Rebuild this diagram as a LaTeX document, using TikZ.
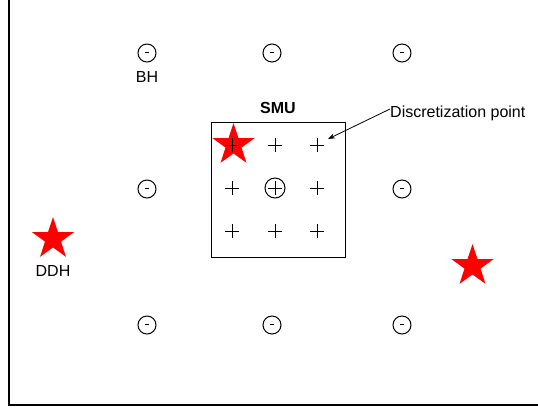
\documentclass[tikz,border=0pt]{standalone}
\usepackage{fontspec}
\setmainfont{Liberation Sans}
\usetikzlibrary{shapes.geometric,arrows.meta}
\begin{document}
\begin{tikzpicture}[x=1pt,y=-1pt,
  hole/.style={circle,draw,line width=1pt,minimum size=18pt,inner sep=0pt,
    path picture={\draw[line width=1pt] ([xshift=-2pt,yshift=1pt]path picture bounding box.center) -- ++(4pt,0);}},
  discpt/.style={minimum size=14pt,inner sep=0pt,
    path picture={\draw[line width=0.8pt]
      ([xshift=-7pt]path picture bounding box.center) -- ++(14pt,0)
      ([yshift=-7pt]path picture bounding box.center) -- ++(0,14pt);}},
  ddh/.style={star,star points=5,star point ratio=2.6,fill=red,draw=none,
    minimum size=44pt,inner sep=0pt},
  lbl/.style={font=\fontsize{16}{19}\selectfont,inner sep=0pt},
  smubox/.style={draw,line width=1pt,inner sep=0pt}]
  \useasboundingbox (0,0) rectangle (538,408);
  \fill[white] (0,0) rectangle (538,408);
  % outer frame: left and bottom edges
  \draw[line width=2pt] (9,0) -- (9,405) -- (538,405);

  % boreholes around the SMU
  \node[hole] (h1) at (147,53) {};
  \node[hole] (h2) at (272,53) {};
  \node[hole] (h3) at (402,53) {};
  \node[hole] (h4) at (147,189) {};
  \node[hole] (h5) at (402,189) {};
  \node[hole] (h6) at (147,325) {};
  \node[hole] (h7) at (272,325) {};
  \node[hole] (h8) at (402,325) {};
  \node[lbl] (bh) at (147,77) {BH};

  % SMU block
  \node[smubox,minimum width=134pt,minimum height=135pt] (smu) at (278,189.5) {};
  \node[lbl,font=\fontsize{16}{19}\selectfont\bfseries] (smulbl) at (278,108) {SMU};

  % stars (drawn beneath the grid points)
  \node[ddh] (s1) at (233.5,145) {};
  \node[ddh] (s2) at (53,239) {};
  \node[ddh] (s3) at (472.5,266) {};
  \node[lbl] (ddhlbl) at (53,271) {DDH};

  % discretization points
  \foreach \c [count=\i] in {232,275,317}
    \foreach \r [count=\j] in {145,188,231}
      \node[discpt] (p\i\j) at (\c,\r) {};
  \node[circle,draw,line width=1pt,minimum size=20pt,inner sep=0pt] (pc) at (275,188) {};

  % annotation
  \node[lbl,anchor=west] (dl) at (390,113) {Discretization point};
  \draw[line width=0.8pt,-{Stealth[length=7pt,width=5pt]}] ([yshift=4pt]dl.west) -- (328,139);
\end{tikzpicture}
\end{document}
